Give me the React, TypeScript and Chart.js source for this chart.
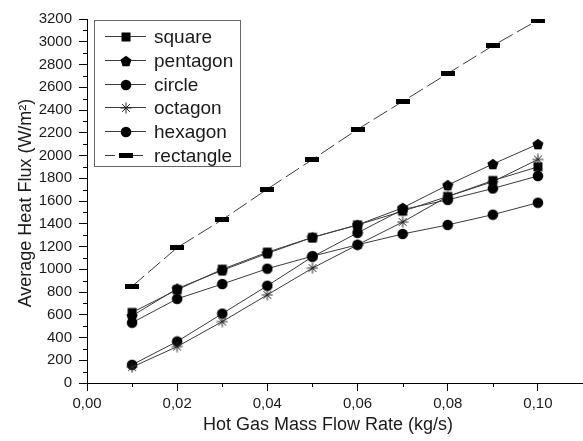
import React, { useEffect, useRef } from 'react';
import { Chart, registerables } from 'chart.js';

Chart.register(...registerables);

// ---- data ----
const flowRates = [0.01, 0.02, 0.03, 0.04, 0.05, 0.06, 0.07, 0.08, 0.09, 0.10];
const squareFlux = [620, 820, 1000, 1150, 1280, 1390, 1510, 1640, 1780, 1900];
const pentagonFlux = [590, 830, 990, 1140, 1280, 1390, 1540, 1740, 1925, 2100];
const circleFlux = [530, 740, 870, 1005, 1115, 1215, 1310, 1390, 1480, 1585];
const octagonFlux = [140, 320, 540, 775, 1010, 1215, 1415, 1640, 1770, 1965];
const hexagonFlux = [160, 365, 610, 855, 1110, 1320, 1525, 1610, 1710, 1820];
const rectangleFlux = [850, 1190, 1435, 1705, 1965, 2230, 2475, 2720, 2965, 3190];

const seriesNames = ['square', 'pentagon', 'circle', 'octagon', 'hexagon', 'rectangle'];
const seriesValues = [squareFlux, pentagonFlux, circleFlux, octagonFlux, hexagonFlux, rectangleFlux];

const xMajorTicks = [0, 0.02, 0.04, 0.06, 0.08, 0.10];
const xMinorTicks = [0.01, 0.03, 0.05, 0.07, 0.09, 0.11];
const yMajorTicks = [0, 200, 400, 600, 800, 1000, 1200, 1400, 1600, 1800, 2000, 2200, 2400, 2600, 2800, 3000, 3200];
const yMinorTicks = [100, 300, 500, 700, 900, 1100, 1300, 1500, 1700, 1900, 2100, 2300, 2500, 2700, 2900, 3100];

const xTitle = 'Hot Gas Mass Flow Rate (kg/s)';
const yTitle = 'Average Heat Flux (W/m\u00B2)';

const FONT = '"Liberation Sans", Arial, Helvetica, sans-serif';
const TEXT = '#1a1a1a';
const LINE = '#3a3a3a';

function makeMarker(kind: string): HTMLCanvasElement {
  const c = document.createElement('canvas');
  let w = 12;
  let h = 12;
  if (kind === 'rectangle') { w = 14; h = 5; }
  c.width = w;
  c.height = h;
  const g = c.getContext('2d')!;
  g.fillStyle = '#000';
  g.strokeStyle = '#000';
  if (kind === 'square') {
    g.fillRect(1.5, 1.5, 9, 9);
  } else if (kind === 'pentagon') {
    g.beginPath();
    for (let k = 0; k < 5; k++) {
      const a = -Math.PI / 2 + (k * 2 * Math.PI) / 5;
      const px = 6 + 5.8 * Math.cos(a);
      const py = 6.6 + 5.8 * Math.sin(a);
      if (k === 0) g.moveTo(px, py); else g.lineTo(px, py);
    }
    g.closePath();
    g.fill();
  } else if (kind === 'circle' || kind === 'hexagon') {
    g.beginPath();
    g.arc(6, 6, 5.3, 0, Math.PI * 2);
    g.fill();
  } else if (kind === 'octagon') {
    g.lineWidth = 1;
    g.strokeStyle = '#222';
    for (let k = 0; k < 4; k++) {
      const a = (k * Math.PI) / 4;
      g.beginPath();
      g.moveTo(6 - 5.5 * Math.cos(a), 6 - 5.5 * Math.sin(a));
      g.lineTo(6 + 5.5 * Math.cos(a), 6 + 5.5 * Math.sin(a));
      g.stroke();
    }
  } else if (kind === 'rectangle') {
    g.fillRect(0, 0, 14, 5);
  }
  return c;
}

export default function App() {
  const canvasRef = useRef<HTMLCanvasElement | null>(null);

  useEffect(() => {
    const canvas = canvasRef.current;
    if (!canvas) return;
    const markers = seriesNames.map((n) => makeMarker(n));

    const datasets = seriesNames.map((name, i) => ({
      label: name,
      data: flowRates.map((x, j) => ({ x, y: seriesValues[i][j] })),
      borderColor: LINE,
      backgroundColor: '#000',
      borderWidth: 1,
      borderDash: name === 'rectangle' ? [16, 5] : [],
      pointStyle: markers[i] as any,
      pointRadius: 6,
      pointHoverRadius: 6,
      tension: 0,
      fill: false,
    }));

    const extras = {
      id: 'extras',
      afterDraw(chart: any) {
        const ctx = chart.ctx as CanvasRenderingContext2D;
        const xs = chart.scales.x;
        const ys = chart.scales.y;
        const area = chart.chartArea;
        ctx.save();
        // minor ticks
        ctx.strokeStyle = '#000';
        ctx.lineWidth = 1;
        ctx.beginPath();
        yMinorTicks.forEach((v) => {
          const py = Math.round(ys.getPixelForValue(v)) + 0.5;
          ctx.moveTo(area.left - 4, py);
          ctx.lineTo(area.left, py);
        });
        xMinorTicks.forEach((v) => {
          const px = Math.round(xs.getPixelForValue(v)) + 0.5;
          if (px > chart.width) return;
          ctx.moveTo(px, area.bottom);
          ctx.lineTo(px, area.bottom + 4);
        });
        ctx.stroke();

        // axis titles
        ctx.fillStyle = TEXT;
        ctx.font = `18px ${FONT}`;
        ctx.textAlign = 'center';
        ctx.textBaseline = 'middle';
        ctx.fillText(xTitle, 328, 425);
        ctx.save();
        ctx.translate(26, 203);
        ctx.rotate(-Math.PI / 2);
        ctx.fillText(yTitle, 0, 0);
        ctx.restore();

        // legend
        const bx = 94.5, by = 20.5, bw = 146, bh = 146;
        ctx.fillStyle = '#fff';
        ctx.fillRect(bx, by, bw, bh);
        ctx.strokeStyle = '#666';
        ctx.strokeRect(bx, by, bw, bh);
        ctx.font = `19px ${FONT}`;
        ctx.textAlign = 'left';
        ctx.textBaseline = 'middle';
        seriesNames.forEach((name, i) => {
          const ry = Math.round(36 + i * 23.8) + 0.5;
          ctx.strokeStyle = LINE;
          ctx.lineWidth = 1;
          ctx.setLineDash(name === 'rectangle' ? [10, 4] : []);
          ctx.beginPath();
          ctx.moveTo(105, ry);
          ctx.lineTo(146, ry);
          ctx.stroke();
          ctx.setLineDash([]);
          const m = markers[i];
          ctx.drawImage(m, Math.round(125.5 - m.width / 2), Math.round(ry - m.height / 2));
          ctx.fillStyle = TEXT;
          ctx.fillText(name, 154, ry + 1);
        });
        ctx.restore();
      },
    };

    const chart = new Chart(canvas, {
      type: 'line',
      data: { datasets },
      options: {
        responsive: false,
        animation: false,
        devicePixelRatio: 1,
        layout: { autoPadding: false, padding: { top: 19, right: 0, left: 0, bottom: 0 } },
        plugins: {
          legend: { display: false },
          tooltip: { enabled: false },
          title: { display: false },
        },
        scales: {
          x: {
            type: 'linear',
            min: 0,
            max: 0.11,
            afterBuildTicks: (s: any) => {
              s.ticks = xMajorTicks.map((v) => ({ value: v }));
            },
            afterFit: (s: any) => { s.height = 58; s.paddingRight = 0; s.paddingLeft = 0; },
            ticks: {
              autoSkip: false,
              maxRotation: 0,
              padding: 4,
              color: TEXT,
              font: { family: FONT, size: 15 },
              callback: (v: any) => Number(v).toFixed(2).replace('.', ','),
            },
            grid: { display: true, drawOnChartArea: false, drawTicks: true, tickLength: 8, color: '#000', lineWidth: 1 },
            border: { display: true, color: '#000', width: 1 },
          },
          y: {
            type: 'linear',
            min: 0,
            max: 3200,
            afterBuildTicks: (s: any) => {
              s.ticks = yMajorTicks.map((v) => ({ value: v }));
            },
            afterFit: (s: any) => { s.width = 87; s.paddingTop = 0; s.paddingBottom = 0; },
            ticks: {
              autoSkip: false,
              padding: 7,
              color: TEXT,
              font: { family: FONT, size: 15 },
              callback: (v: any) => String(v),
            },
            grid: { display: true, drawOnChartArea: false, drawTicks: true, tickLength: 8, color: '#000', lineWidth: 1 },
            border: { display: true, color: '#000', width: 1 },
          },
        },
      },
      plugins: [extras],
    });

    return () => chart.destroy();
  }, []);

  return (
    <div style={{ position: 'absolute', left: 0, top: 0, width: 583, height: 441, background: '#fff' }}>
      <canvas ref={canvasRef} width={583} height={441} style={{ display: 'block', width: 583, height: 441 }} />
    </div>
  );
}
